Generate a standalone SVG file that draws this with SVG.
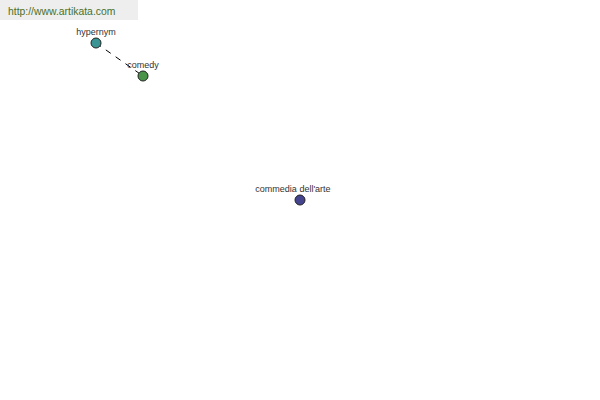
<svg xmlns="http://www.w3.org/2000/svg" width="600" height="400" viewBox="0 0 600 400">
<style>
.lbl{font-family:"Liberation Sans",Arial,sans-serif;font-size:9px;fill:#333;text-anchor:middle}
.node{stroke:#222;stroke-width:1}
</style>
<rect width="600" height="400" fill="#fff"/>
<rect x="0" y="0" width="138" height="20" fill="#eeeeee"/>
<text x="8" y="15" font-family="Liberation Sans,Arial,sans-serif" font-size="10.4" fill="#4a7028">http://www.artikata.com</text>
<g id="connectors">
<line x1="96" y1="43" x2="143" y2="76" stroke="#000" stroke-width="1" stroke-dasharray="6,6"/>
</g>
<g id="hypernym">
<circle class="node" cx="96" cy="43" r="5" fill="#3a9494"/>
<text class="lbl" x="96" y="35">hypernym</text>
</g>
<g id="comedy">
<circle class="node" cx="143" cy="76" r="5" fill="#4a944a"/>
<text class="lbl" x="143" y="68">comedy</text>
</g>
<g id="commedia">
<circle class="node" cx="300" cy="200" r="5" fill="#44448f"/>
<text class="lbl" x="293" y="192">commedia dell'arte</text>
</g>
</svg>
